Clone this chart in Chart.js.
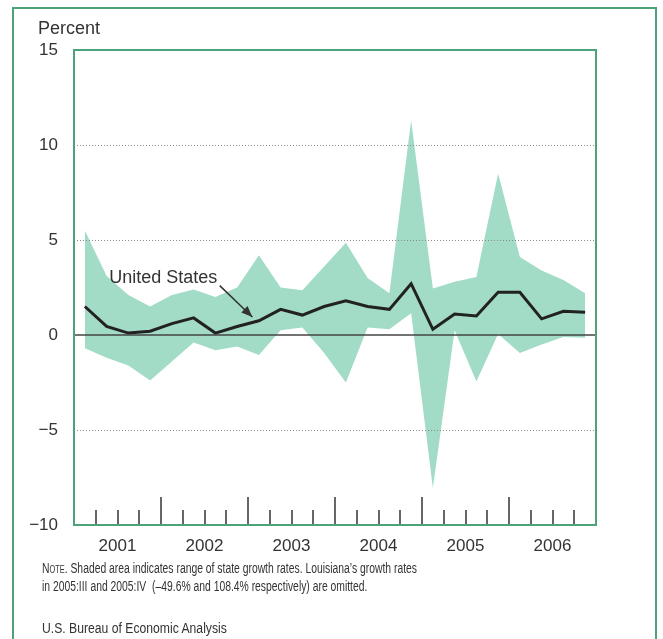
<!DOCTYPE html>
<html>
<head>
<meta charset="utf-8">
<script src="https://cdn.jsdelivr.net/npm/chart.js@4.4.0/dist/chart.umd.min.js"></script>
<style>
  html, body { margin: 0; padding: 0; background: #fff; }
  body { width: 663px; height: 639px; position: relative; overflow: hidden; font-family: "Liberation Sans", Arial, sans-serif; color: #333; }
  #wrap { position: absolute; left: 0; top: 0; width: 663px; height: 639px; }
  #frame { position: absolute; left: 12px; top: 7px; width: 645px; height: 700px; border: 2px solid #4ea27a; box-sizing: border-box; }
  #ylab { position: absolute; left: 38px; top: 18px; font-size: 18px; color: #333; }
  #note { position: absolute; left: 42px; top: 559px; font-size: 14px; line-height: 18px; color: #333; transform: scaleX(0.74); transform-origin: 0 0; white-space: nowrap; }
  #note .sc { font-variant: small-caps; }
  #src { position: absolute; left: 42px; top: 620px; font-size: 14px; color: #333; transform: scaleX(0.87); transform-origin: 0 0; white-space: nowrap; }
</style>
</head>
<body>
<div id="frame"></div>
<div id="wrap"><canvas id="c" width="663" height="639"></canvas></div>
<div id="ylab">Percent</div>
<div id="note"><span class="sc">Note</span>. Shaded area indicates range of state growth rates. Louisiana’s growth rates<br>in 2005:III and 2005:IV&nbsp; (–49.6% and 108.4% respectively) are omitted.</div>
<div id="src">U.S. Bureau of Economic Analysis</div>
<script>
// Quarterly data, 2001:I – 2006:IV
const years = ["2001", "2002", "2003", "2004", "2005", "2006"];
const unitedStates = [1.5, 0.45, 0.1, 0.2, 0.6, 0.9, 0.1, 0.45, 0.75, 1.35, 1.05, 1.5, 1.8, 1.5, 1.35, 2.7, 0.3, 1.1, 1.0, 2.25, 2.25, 0.85, 1.25, 1.2];
const stateMax = [5.5, 3.1, 2.1, 1.5, 2.1, 2.4, 2.0, 2.5, 4.2, 2.5, 2.35, 3.6, 4.85, 3.0, 2.2, 11.3, 2.45, 2.8, 3.05, 8.5, 4.1, 3.4, 2.9, 2.2];
const stateMin = [-0.7, -1.2, -1.6, -2.4, -1.4, -0.4, -0.8, -0.6, -1.05, 0.25, 0.4, -0.95, -2.5, 0.4, 0.3, 1.15, -8.05, 0.25, -2.45, 0.05, -0.95, -0.5, -0.1, -0.15];
const yTicks = [-10, -5, 0, 5, 10, 15];
const seriesLabel = "United States";

const toPts = arr => arr.map((v, i) => ({ x: i + 0.5, y: v }));
const nQuarters = unitedStates.length;

const fontFam = '"Liberation Sans", Arial, sans-serif';
const textColor = '#333';
const frameGreen = '#4ea27a';

const decor = {
  id: 'decor',
  afterDatasetsDraw(chart) {
    const { ctx, chartArea: a, scales: { x, y } } = chart;
    ctx.save();
    // dotted grid
    ctx.strokeStyle = '#8a8a8a';
    ctx.lineWidth = 1;
    ctx.setLineDash([1, 2]);
    yTicks.forEach(v => {
      if (v === 0 || v === y.min || v === y.max) return;
      const py = Math.round(y.getPixelForValue(v)) + 0.5;
      ctx.beginPath(); ctx.moveTo(a.left, py); ctx.lineTo(a.right, py); ctx.stroke();
    });
    ctx.setLineDash([]);
    // zero line
    ctx.strokeStyle = '#444';
    ctx.lineWidth = 1.5;
    const p0 = y.getPixelForValue(0);
    ctx.beginPath(); ctx.moveTo(a.left, p0); ctx.lineTo(a.right, p0); ctx.stroke();
    // quarter tick marks
    ctx.strokeStyle = '#333';
    ctx.lineWidth = 1.5;
    for (let q = 1; q < nQuarters; q++) {
      const px = Math.round(x.getPixelForValue(q));
      const len = q % 4 === 0 ? 28 : 15;
      ctx.beginPath(); ctx.moveTo(px, a.bottom); ctx.lineTo(px, a.bottom - len); ctx.stroke();
    }
    // label + arrow
    ctx.fillStyle = textColor;
    ctx.font = '18px ' + fontFam;
    ctx.textAlign = 'center';
    ctx.textBaseline = 'middle';
    const lx = x.getPixelForValue(4.1), ly = y.getPixelForValue(3.0);
    ctx.fillText(seriesLabel, lx, ly);
    const sx = x.getPixelForValue(6.7), sy = y.getPixelForValue(2.6);
    const tx = x.getPixelForValue(8.2), ty = y.getPixelForValue(0.95);
    ctx.strokeStyle = '#333';
    ctx.lineWidth = 1.5;
    ctx.beginPath(); ctx.moveTo(sx, sy); ctx.lineTo(tx, ty); ctx.stroke();
    const ang = Math.atan2(ty - sy, tx - sx);
    const hl = 11, hw = 4.5;
    ctx.beginPath();
    ctx.moveTo(tx, ty);
    ctx.lineTo(tx - hl * Math.cos(ang) + hw * Math.sin(ang), ty - hl * Math.sin(ang) - hw * Math.cos(ang));
    ctx.lineTo(tx - hl * Math.cos(ang) - hw * Math.sin(ang), ty - hl * Math.sin(ang) + hw * Math.cos(ang));
    ctx.closePath();
    ctx.fillStyle = '#333';
    ctx.fill();
    // plot frame
    ctx.strokeStyle = frameGreen;
    ctx.lineWidth = 2;
    ctx.strokeRect(a.left, a.top, a.right - a.left, a.bottom - a.top);
    ctx.restore();
  }
};

new Chart(document.getElementById('c'), {
  type: 'line',
  data: {
    datasets: [
      { label: 'max', data: toPts(stateMax), borderWidth: 0, pointRadius: 0, fill: 1, backgroundColor: '#a3dcc6', tension: 0, order: 2 },
      { label: 'min', data: toPts(stateMin), borderWidth: 0, pointRadius: 0, fill: false, tension: 0, order: 3 },
      { label: seriesLabel, data: toPts(unitedStates), borderColor: '#222', borderWidth: 3, pointRadius: 0, fill: false, tension: 0, borderJoinStyle: 'miter', order: 0 }
    ]
  },
  options: {
    responsive: false,
    animation: false,
    devicePixelRatio: 1,
    layout: { padding: { left: 0, top: 50, right: 67, bottom: 0 } },
    plugins: { legend: { display: false }, tooltip: { enabled: false } },
    scales: {
      x: {
        type: 'linear',
        min: 0, max: nQuarters,
        grid: { display: false, drawTicks: false },
        border: { display: false },
        afterFit(s) { s.height = 114; },
        afterBuildTicks(s) { s.ticks = years.map((yr, i) => ({ value: 2 + 4 * i })); },
        ticks: {
          padding: 11,
          color: textColor,
          font: { family: fontFam, size: 17 },
          maxRotation: 0, autoSkip: false,
          callback: (v, i) => years[i]
        }
      },
      y: {
        min: yTicks[0], max: yTicks[yTicks.length - 1],
        grid: { display: false, drawTicks: false },
        border: { display: false },
        afterFit(s) { s.width = 74; },
        afterBuildTicks(s) { s.ticks = yTicks.map(v => ({ value: v })); },
        ticks: {
          padding: 16,
          color: textColor,
          font: { family: fontFam, size: 17 },
          callback: v => (v < 0 ? '\u2212' + Math.abs(v) : String(v))
        }
      }
    }
  },
  plugins: [decor]
});
</script>
</body>
</html>
